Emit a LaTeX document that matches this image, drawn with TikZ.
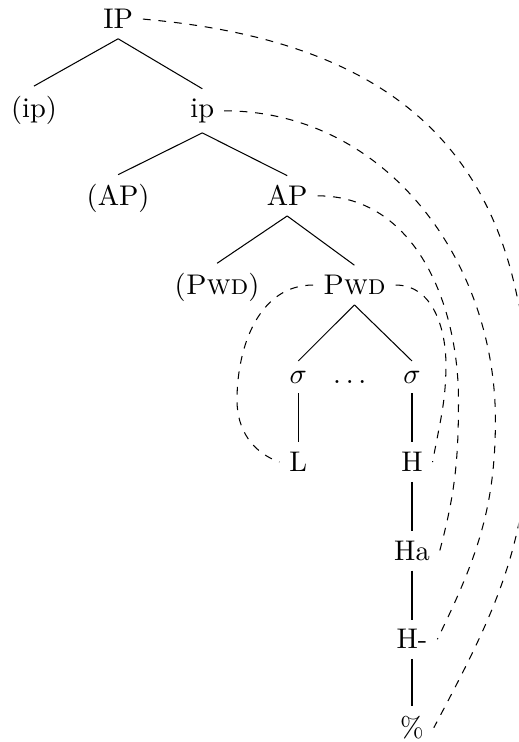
\documentclass[11pt,tikz,border=0pt]{standalone}
\usepackage{amsmath,amssymb}
\tikzset{branch/.style={-}}
\tikzset{dashed-link/.style={dashed}}
\newcommand{\pwd}{\textsc{Pwd}}

\begin{document}
\begin{tikzpicture}[every node/.style={anchor=base}]
      \clip (-1.6, 0.39) rectangle (5.42, -9.66);

      \node (IP) at (0, 0) {IP};
      \node (pip) at (-1.14, -1.2) {(ip)};
      \node (ip) at (1.14, -1.2) {ip};
      \node (pAP) at (0, -2.4) {(AP)};
      \node (AP) at (2.29, -2.4) {AP};
      \node (pPwd) at (1.34, -3.6) {(\pwd)};
      \node (Pwd) at (3.2, -3.6) {\pwd};
      \node (s1) at (2.44, -4.8) {$\sigma$};
      \node (dots) at (3.17, -4.8) {$\dots$};
      \node (s2) at (3.98, -4.8) {$\sigma$};
      \node (L) at (2.44, -6.0) {L};
      \node (H) at (3.98, -6.0) {H};
      \node (Ha) at (3.98, -7.2) {Ha};
      \node (Hm) at (3.98, -8.4) {H-};
      \node (pct) at (3.98, -9.6) {\%};

      \draw[branch] (IP.south) -- (pip.north);
      \draw[branch] (IP.south) -- (ip.north);
      \draw[branch] (ip.south) -- (pAP.north);
      \draw[branch] (ip.south) -- (AP.north);
      \draw[branch] (AP.south) -- (pPwd.north);
      \draw[branch] (AP.south) -- (Pwd.north);
      \draw[branch] (Pwd.south) -- (s1.north);
      \draw[branch] (Pwd.south) -- (s2.north);
      \draw[branch] (s1) -- (L);
      \draw[branch] (s2) -- (H);
      \draw[branch] (H) -- (Ha);
      \draw[branch] (Ha) -- (Hm);
      \draw[branch] (Hm) -- (pct);

      % association lines
      \draw[dashed-link] (IP.east) to[out=-5, in=90, looseness=1.2] (5.56, -5.3)
            to[out=-90, in=62] (pct.east);
      \draw[dashed-link] (ip.east) to[out=0, in=90] (5.11, -5.3)
            to[out=-90, in=64] (Hm.east);
      \draw[dashed-link] (AP.east) to[out=0, in=90] (4.61, -5.03)
            to[out=-90, in=75] (Ha.east);
      \draw[dashed-link] (Pwd.east) to[out=0, in=90] (4.44, -4.55)
            to[out=-90, in=80] (H.east);
      \draw[dashed-link] (Pwd.west) to[out=180, in=90] (1.61, -5.03)
            to[out=-90, in=160] (L.west);

    \end{tikzpicture}
\end{document}
